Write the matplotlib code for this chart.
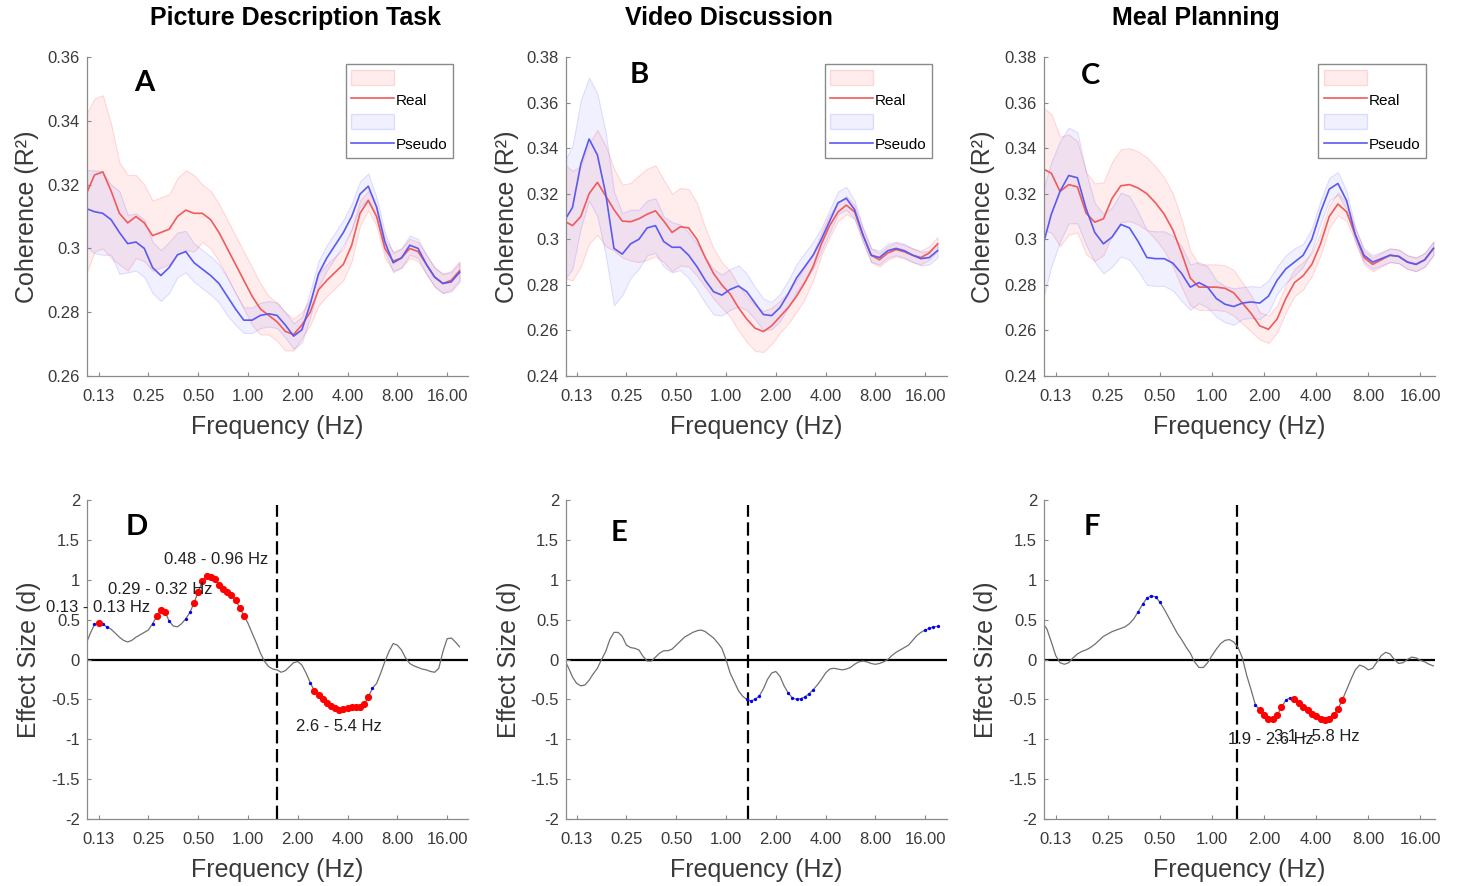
import numpy as np
import matplotlib.pyplot as plt
from matplotlib.patches import Patch
from matplotlib.lines import Line2D
from matplotlib.ticker import FuncFormatter

plt.rcParams['font.family'] = ['Liberation Sans', 'DejaVu Sans']
plt.rcParams['axes.unicode_minus'] = False

# spectra sampled every 1/6 octave, effect sizes every 1/12 octave
coh_freq = 0.125 * 2 ** (np.arange(46) / 6.0 - 0.25)
d_freq = 0.125 * 2 ** (np.arange(91) / 12.0 - 0.25)

tasks = ['Picture Description Task', 'Video Discussion', 'Meal Planning']
freq_ticks = [0.125, 0.25, 0.5, 1, 2, 4, 8, 16]
freq_labels = ['0.13', '0.25', '0.50', '1.00', '2.00', '4.00', '8.00', '16.00']

# coherence (R^2), mean and standard error
picture_real = [0.317, 0.323, 0.324, 0.318, 0.311, 0.308, 0.310, 0.308, 0.304, 0.305,
                0.306, 0.310, 0.312, 0.311, 0.311, 0.309, 0.305, 0.300, 0.295, 0.290,
                0.285, 0.281, 0.279, 0.277, 0.274, 0.273, 0.276, 0.280, 0.287, 0.290,
                0.2925, 0.295, 0.301, 0.311, 0.315, 0.310, 0.300, 0.296, 0.297, 0.300,
                0.299, 0.295, 0.291, 0.289, 0.290, 0.293]
picture_real_se = [0.025, 0.024, 0.024, 0.021, 0.016, 0.015, 0.013, 0.012, 0.011, 0.011,
                   0.011, 0.012, 0.0125, 0.012, 0.009, 0.009, 0.009, 0.009, 0.009, 0.009,
                   0.009, 0.008, 0.006, 0.006, 0.006, 0.005, 0.004, 0.004, 0.005, 0.005,
                   0.005, 0.005, 0.005, 0.004, 0.003, 0.003, 0.003, 0.003, 0.003, 0.003,
                   0.003, 0.003, 0.003, 0.003, 0.003, 0.003]
picture_pseudo = [0.3125, 0.3115, 0.311, 0.309, 0.305, 0.3015, 0.302, 0.300, 0.294, 0.2915,
                  0.294, 0.298, 0.299, 0.2955, 0.2935, 0.2915, 0.289, 0.285, 0.281, 0.2775,
                  0.2775, 0.279, 0.2795, 0.279, 0.276, 0.2725, 0.2745, 0.2825, 0.292, 0.297,
                  0.301, 0.305, 0.310, 0.317, 0.3195, 0.313, 0.302, 0.2955, 0.297, 0.301,
                  0.300, 0.295, 0.291, 0.289, 0.2895, 0.2925]
picture_pseudo_se = [0.012, 0.013, 0.013, 0.011, 0.013, 0.009, 0.009, 0.009, 0.008, 0.008,
                     0.008, 0.007, 0.0065, 0.006, 0.006, 0.006, 0.006, 0.006, 0.005, 0.004,
                     0.004, 0.004, 0.004, 0.004, 0.004, 0.004, 0.004, 0.004, 0.004, 0.004,
                     0.004, 0.004, 0.004, 0.004, 0.004, 0.003, 0.003, 0.003, 0.003, 0.003,
                     0.003, 0.003, 0.003, 0.003, 0.003, 0.003]

video_real = [0.308, 0.306, 0.310, 0.320, 0.325, 0.319, 0.313, 0.308, 0.3077, 0.309,
              0.311, 0.3125, 0.308, 0.303, 0.3055, 0.305, 0.300, 0.292, 0.285, 0.280,
              0.276, 0.270, 0.265, 0.261, 0.2595, 0.262, 0.266, 0.270, 0.275, 0.281,
              0.288, 0.298, 0.306, 0.312, 0.315, 0.312, 0.302, 0.293, 0.291, 0.294,
              0.2955, 0.2945, 0.293, 0.292, 0.294, 0.298]
video_real_se = [0.025, 0.024, 0.022, 0.022, 0.023, 0.022, 0.018, 0.016, 0.017, 0.019,
                 0.020, 0.020, 0.018, 0.017, 0.017, 0.017, 0.016, 0.013, 0.011, 0.010,
                 0.010, 0.010, 0.010, 0.010, 0.009, 0.008, 0.007, 0.007, 0.007, 0.007,
                 0.006, 0.005, 0.005, 0.004, 0.004, 0.003, 0.003, 0.003, 0.003, 0.003,
                 0.003, 0.003, 0.003, 0.003, 0.003, 0.003]
video_pseudo = [0.308, 0.314, 0.333, 0.344, 0.337, 0.320, 0.296, 0.2935, 0.298, 0.300,
                0.305, 0.306, 0.299, 0.2965, 0.2965, 0.293, 0.288, 0.282, 0.277, 0.2755,
                0.278, 0.2795, 0.277, 0.272, 0.267, 0.2665, 0.270, 0.276, 0.283, 0.288,
                0.293, 0.300, 0.308, 0.316, 0.318, 0.313, 0.302, 0.293, 0.292, 0.295,
                0.296, 0.295, 0.293, 0.2915, 0.292, 0.295]
video_pseudo_se = [0.026, 0.027, 0.028, 0.027, 0.027, 0.027, 0.025, 0.018, 0.015, 0.013,
                   0.012, 0.012, 0.011, 0.011, 0.010, 0.010, 0.010, 0.010, 0.010, 0.009,
                   0.009, 0.009, 0.008, 0.007, 0.007, 0.006, 0.006, 0.006, 0.006, 0.006,
                   0.006, 0.005, 0.005, 0.005, 0.005, 0.004, 0.003, 0.003, 0.003, 0.003,
                   0.003, 0.003, 0.003, 0.003, 0.003, 0.003]

meal_real = [0.331, 0.329, 0.321, 0.324, 0.323, 0.3115, 0.3075, 0.309, 0.318, 0.3235,
             0.324, 0.3225, 0.320, 0.316, 0.311, 0.304, 0.294, 0.283, 0.279, 0.279,
             0.279, 0.2785, 0.2765, 0.272, 0.2675, 0.262, 0.2605, 0.265, 0.274, 0.281,
             0.284, 0.289, 0.298, 0.310, 0.3155, 0.312, 0.302, 0.292, 0.289, 0.291,
             0.293, 0.2925, 0.290, 0.289, 0.291, 0.296]
meal_real_se = [0.027, 0.026, 0.024, 0.022, 0.020, 0.018, 0.017, 0.016, 0.016, 0.016,
                0.016, 0.016, 0.016, 0.016, 0.016, 0.016, 0.015, 0.012, 0.010, 0.010,
                0.010, 0.010, 0.010, 0.009, 0.008, 0.006, 0.006, 0.006, 0.006, 0.006,
                0.006, 0.005, 0.005, 0.005, 0.005, 0.004, 0.003, 0.003, 0.003, 0.003,
                0.003, 0.003, 0.003, 0.003, 0.003, 0.003]
meal_pseudo = [0.297, 0.311, 0.321, 0.328, 0.327, 0.3135, 0.303, 0.298, 0.301, 0.3065,
               0.305, 0.299, 0.292, 0.2915, 0.2915, 0.2895, 0.285, 0.279, 0.281, 0.279,
               0.274, 0.2715, 0.2705, 0.272, 0.2725, 0.272, 0.275, 0.282, 0.287, 0.290,
               0.293, 0.300, 0.312, 0.322, 0.3245, 0.317, 0.302, 0.293, 0.290, 0.2915,
               0.293, 0.2925, 0.290, 0.289, 0.291, 0.296]
meal_pseudo_se = [0.024, 0.023, 0.022, 0.021, 0.020, 0.016, 0.013, 0.013, 0.013, 0.014,
                  0.014, 0.013, 0.012, 0.012, 0.012, 0.012, 0.012, 0.010, 0.009, 0.009,
                  0.008, 0.008, 0.008, 0.007, 0.007, 0.007, 0.007, 0.006, 0.006, 0.006,
                  0.005, 0.005, 0.005, 0.005, 0.005, 0.004, 0.003, 0.003, 0.003, 0.003,
                  0.003, 0.003, 0.003, 0.003, 0.003, 0.003]

# effect size (d), real vs pseudo
picture_d = [0.20, 0.33, 0.44, 0.455, 0.44, 0.41, 0.38, 0.33, 0.28, 0.24,
             0.22, 0.24, 0.28, 0.31, 0.34, 0.37, 0.45, 0.54, 0.62, 0.60,
             0.48, 0.42, 0.41, 0.45, 0.51, 0.59, 0.71, 0.85, 0.98, 1.05,
             1.04, 1.01, 0.94, 0.88, 0.85, 0.81, 0.75, 0.65, 0.55, 0.455,
             0.33, 0.21, 0.08, -0.025, -0.09, -0.12, -0.13, -0.16, -0.14, -0.09,
             -0.04, -0.025, -0.07, -0.17, -0.29, -0.39, -0.44, -0.50, -0.54, -0.58,
             -0.61, -0.63, -0.62, -0.61, -0.60, -0.60, -0.60, -0.56, -0.47, -0.36,
             -0.30, -0.17, -0.025, 0.10, 0.20, 0.18, 0.12, 0.02, -0.05, -0.08,
             -0.10, -0.12, -0.13, -0.15, -0.16, -0.11, 0.10, 0.26, 0.27, 0.22, 0.16]
video_d = [0.00, -0.10, -0.22, -0.30, -0.33, -0.32, -0.26, -0.18, -0.11, 0.00,
           0.10, 0.25, 0.34, 0.34, 0.29, 0.18, 0.15, 0.14, 0.12, 0.04,
           -0.02, -0.02, 0.03, 0.08, 0.11, 0.11, 0.13, 0.18, 0.23, 0.28,
           0.31, 0.34, 0.36, 0.37, 0.35, 0.31, 0.27, 0.21, 0.14, 0.00,
           -0.17, -0.28, -0.39, -0.46, -0.50, -0.52, -0.50, -0.46, -0.37, -0.25,
           -0.17, -0.15, -0.21, -0.33, -0.42, -0.48, -0.50, -0.49, -0.47, -0.43,
           -0.38, -0.32, -0.25, -0.17, -0.12, -0.11, -0.12, -0.13, -0.12, -0.10,
           -0.06, -0.03, -0.02, -0.03, -0.05, -0.06, -0.05, -0.03, 0.00, 0.05,
           0.09, 0.12, 0.15, 0.18, 0.24, 0.30, 0.34, 0.37, 0.39, 0.41, 0.415]
meal_d = [0.46, 0.38, 0.22, 0.05, -0.04, -0.06, -0.04, 0.02, 0.07, 0.10,
          0.12, 0.15, 0.19, 0.24, 0.29, 0.32, 0.35, 0.37, 0.39, 0.41,
          0.45, 0.51, 0.60, 0.69, 0.77, 0.80, 0.785, 0.72, 0.63, 0.53,
          0.43, 0.33, 0.25, 0.16, 0.08, -0.03, -0.10, -0.10, -0.04, 0.05,
          0.13, 0.20, 0.24, 0.25, 0.22, 0.15, 0.02, -0.20, -0.38, -0.57,
          -0.63, -0.69, -0.74, -0.75, -0.70, -0.60, -0.51, -0.48, -0.50, -0.54,
          -0.59, -0.63, -0.68, -0.71, -0.74, -0.755, -0.74, -0.70, -0.62, -0.51,
          -0.38, -0.25, -0.13, -0.07, -0.09, -0.13, -0.11, -0.03, 0.05, 0.09,
          0.07, 0.00, -0.05, -0.04, 0.00, 0.03, 0.02, -0.01, -0.03, -0.06, -0.08]

# indices into d_freq of significant bins (red: survives correction, blue: uncorrected)
picture_red = [3, 17, 18, 19] + list(range(26, 39)) + list(range(55, 69))
picture_blue = [2, 4, 5, 16, 20, 24, 25, 54, 69]
video_red = []
video_blue = [44, 45, 46, 47] + list(range(54, 61)) + [87, 88, 89, 90]
meal_red = list(range(50, 56)) + list(range(58, 70))
meal_blue = list(range(22, 28)) + [49, 56, 57]

# mean speech rate per task (Hz)
speech_rate = [1.49, 1.36, 1.40]

picture_notes = [('0.13 - 0.13 Hz', 0.124, 0.655), ('0.29 - 0.32 Hz', 0.294, 0.873),
                 ('0.48 - 0.96 Hz', 0.646, 1.257), ('2.6 - 5.4 Hz', 3.57, -0.84)]
video_notes = []
meal_notes = [('1.9 - 2.6 Hz', 2.18, -1.005), ('3.1 - 5.8 Hz', 4.02, -0.97)]

RED = '#f05a5a'
BLUE = '#5a5af0'
AXCOL = '#8a8a8a'
TXT = '#3a3a3a'

W, H = 1460, 886
fig = plt.figure(figsize=(W / 100, H / 100), dpi=100)

# pixel extents of each column: left, right, octave range relative to 0.125 Hz
columns = [(87, 468, -0.234, 7.42), (566, 947, -0.214, 7.44), (1044, 1435, -0.224, 7.28)]


def px_axes(left, top, right, bottom):
    return fig.add_axes([left / W, 1 - bottom / H, (right - left) / W, (bottom - top) / H])


def style_axes(ax, olo, ohi):
    for s in ['top', 'right']:
        ax.spines[s].set_visible(False)
    for s in ['left', 'bottom']:
        ax.spines[s].set_color(AXCOL)
        ax.spines[s].set_linewidth(0.9)
    ax.set_xscale('log', base=2)
    ax.set_xlim(0.125 * 2 ** olo, 0.125 * 2 ** ohi)
    ax.set_xticks(freq_ticks)
    ax.set_xticklabels(freq_labels)
    ax.minorticks_off()
    ax.yaxis.set_major_formatter(FuncFormatter(lambda v, p: '%g' % round(v, 4)))
    ax.tick_params(direction='in', length=3, width=0.8, color=AXCOL,
                   labelcolor=TXT, labelsize=12)
    ax.tick_params(axis='x', pad=9.5)
    ax.tick_params(axis='y', pad=5)
    ax.set_xlabel('Frequency (Hz)', fontsize=18, color=TXT)
    ax.xaxis.label.set_va('center')
    ax.xaxis.set_label_coords(0.5, -0.161)


def coherence_panel(ax, real, real_se, pseudo, pseudo_se):
    real, real_se = np.array(real), np.array(real_se)
    pseudo, pseudo_se = np.array(pseudo), np.array(pseudo_se)
    ax.fill_between(coh_freq, real - real_se, real + real_se,
                    facecolor=(1, 0, 0, 0.07), edgecolor=(1, 0, 0, 0.13), lw=0.8)
    ax.fill_between(coh_freq, pseudo - pseudo_se, pseudo + pseudo_se,
                    facecolor=(0, 0, 1, 0.06), edgecolor=(0, 0, 1, 0.11), lw=0.8)
    ax.plot(coh_freq, real, color=RED, lw=1.2, solid_joinstyle='round')
    ax.plot(coh_freq, pseudo, color=BLUE, lw=1.2, solid_joinstyle='round')


def effect_panel(ax, d, red_idx, blue_idx, rate, notes):
    d = np.array(d)
    ax.axhline(0, color='k', lw=1.6, zorder=1)
    ax.axvline(rate, ymax=0.984, color='k', lw=1.6, dashes=(6, 2.5), zorder=1)
    ax.plot(d_freq, d, color='#707070', lw=0.9, zorder=2)
    if blue_idx:
        ax.plot(d_freq[blue_idx], d[blue_idx], 'o', color='blue', ms=2.4, mec='none', zorder=3)
    if red_idx:
        ax.plot(d_freq[red_idx], d[red_idx], 'o', color='red', ms=5.2, mec='none', zorder=3)
    for txt, f, y in notes:
        ax.text(f, y, txt, ha='center', va='center', fontsize=12, color='#202020', zorder=4)


coh = [(picture_real, picture_real_se, picture_pseudo, picture_pseudo_se, 0.26, 0.36),
       (video_real, video_real_se, video_pseudo, video_pseudo_se, 0.24, 0.38),
       (meal_real, meal_real_se, meal_pseudo, meal_pseudo_se, 0.24, 0.38)]
eff = [(picture_d, picture_red, picture_blue, picture_notes),
       (video_d, video_red, video_blue, video_notes),
       (meal_d, meal_red, meal_blue, meal_notes)]

title_x = [296, 729, 1196]
top_letters = [('A', 144, 83), ('B', 639, 75), ('C', 1091, 76)]
bottom_letters = [('D', 137, 527), ('E', 619, 533), ('F', 1092, 527)]
ylabel_x = [(-0.158, -0.153), (-0.156, -0.150), (-0.155, -0.149)]
legend_right = [0.961, 0.961, 0.977]

for i in range(3):
    left, right, olo, ohi = columns[i]

    # coherence spectra
    real, real_se, pseudo, pseudo_se, ylo, yhi = coh[i]
    ax = px_axes(left, 57, right, 376)
    coherence_panel(ax, real, real_se, pseudo, pseudo_se)
    style_axes(ax, olo, ohi)
    ax.set_ylim(ylo, yhi)
    ax.set_yticks(np.arange(ylo, yhi + 0.001, 0.02))
    ax.set_ylabel('Coherence (R²)', fontsize=18, color=TXT)
    ax.yaxis.label.set_va('center')
    ax.yaxis.set_label_coords(ylabel_x[i][0], 0.5)
    handles = [Patch(facecolor=(1, 0, 0, 0.07), edgecolor=(1, 0, 0, 0.13)),
               Line2D([], [], color=RED, lw=1.2),
               Patch(facecolor=(0, 0, 1, 0.06), edgecolor=(0, 0, 1, 0.11)),
               Line2D([], [], color=BLUE, lw=1.2)]
    leg = ax.legend(handles, ['', 'Real', '', 'Pseudo'], loc='upper right',
                    bbox_to_anchor=(legend_right[i], 0.978), borderaxespad=0,
                    fontsize=11, fancybox=False, framealpha=1, edgecolor='#8a8a8a',
                    handlelength=2.8, handleheight=1.15, handletextpad=0.1,
                    labelspacing=0.42, borderpad=0.38)
    leg.get_frame().set_linewidth(1.0)

    # effect sizes
    d, red_idx, blue_idx, notes = eff[i]
    ax = px_axes(left, 500, right, 819)
    effect_panel(ax, d, red_idx, blue_idx, speech_rate[i], notes)
    style_axes(ax, olo, ohi)
    ax.set_ylim(-2, 2)
    ax.set_yticks(np.arange(-2, 2.01, 0.5))
    ax.set_ylabel('Effect Size (d)', fontsize=18, color=TXT)
    ax.yaxis.label.set_va('center')
    ax.yaxis.set_label_coords(ylabel_x[i][1], 0.5)

    fig.text(title_x[i] / W, 1 - 18 / H, tasks[i], fontsize=18, fontweight='bold',
             ha='center', va='center')

for letter, x, y in top_letters + bottom_letters:
    fig.text(x / W, 1 - y / H, letter, fontsize=21, fontweight='bold',
             family=['Lato', 'DejaVu Sans'], ha='center', va='center')

fig.savefig('out.png', dpi=100)
